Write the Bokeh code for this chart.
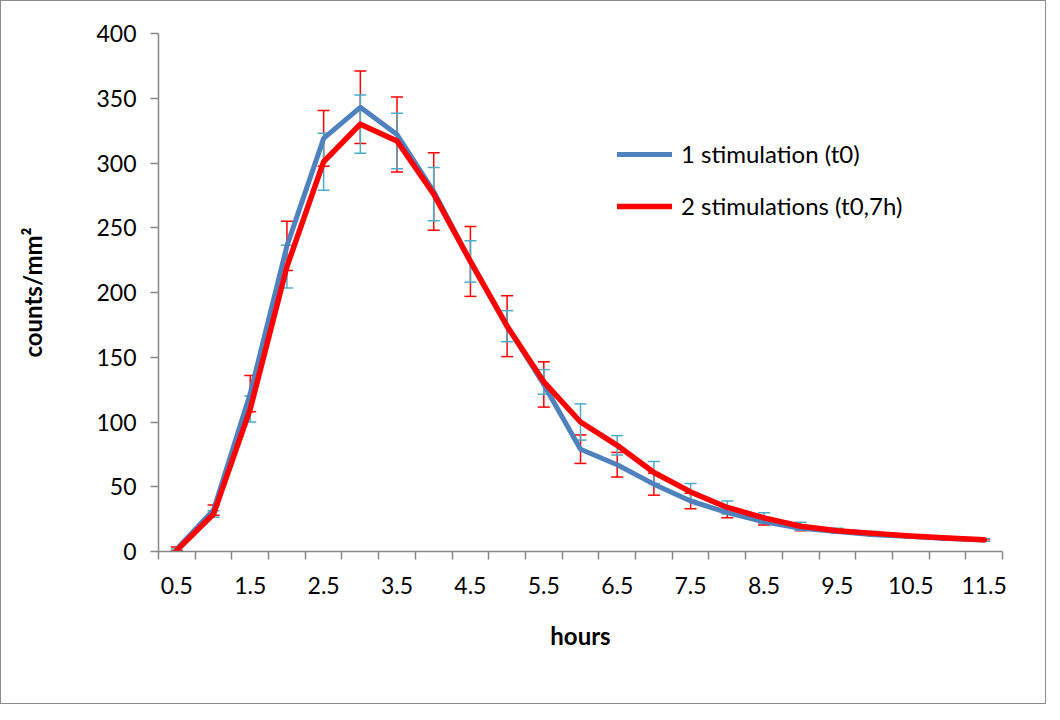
from bokeh.plotting import figure
from bokeh.models import FixedTicker, Whisker, TeeHead, ColumnDataSource, Range1d
from bokeh.embed import file_html
from bokeh.resources import INLINE

# ---- data ----
hours = [0.5, 1.0, 1.5, 2.0, 2.5, 3.0, 3.5, 4.0, 4.5, 5.0, 5.5, 6.0,
         6.5, 7.0, 7.5, 8.0, 8.5, 9.0, 9.5, 10.0, 10.5, 11.0, 11.5]
one_stim = [2, 32, 122, 236, 319, 343, 322, 278, 224, 174, 129, 79,
            67, 52, 39, 30, 23, 18, 15.5, 13, 11.5, 10, 8.8]
one_stim_err = [1.5, 4, 14, 19, 21.5, 28, 29, 30, 27, 23.5, 17.5, 11,
                9.5, 8.5, 6, 4, 2.5, 2, 1.5, 1, 1, 1, 0.8]
two_stim = [1, 29, 110, 220, 301, 330, 317, 276, 224, 174, 131, 100,
            82, 61, 46, 34, 26, 19.5, 16, 14, 12, 10.5, 9]
two_stim_err = [1, 2.5, 10, 16.5, 22, 22.5, 21.5, 20.5, 16, 12, 9.5, 14,
                7.5, 8.5, 6.5, 5, 4, 3, 2, 1.5, 1, 1, 1]
y_ticks = [0, 50, 100, 150, 200, 250, 300, 350, 400]
x_label_ticks = [0.5, 1.5, 2.5, 3.5, 4.5, 5.5, 6.5, 7.5, 8.5, 9.5, 10.5, 11.5]

series1_name = "1 stimulation (t0)"
series2_name = "2 stimulations (t0,7h)"

FONT = "Lato"
AXIS_GREY = "#868686"
BLUE = "#4F81BD"
RED = "#FF0000"
CYAN = "#4BACC6"

p = figure(width=1046, height=704, output_backend="svg", toolbar_location=None,
           x_range=Range1d(0.25, 11.75), y_range=Range1d(0, 400),
           frame_width=844, frame_height=518,
           min_border_left=157, min_border_right=43, min_border_top=32,
           min_border_bottom=152)
p.styles = {"border": "1px solid #8c8c8c"}
p.outline_line_color = None
p.xgrid.grid_line_color = None
p.ygrid.grid_line_color = None
p.background_fill_color = "white"
p.border_fill_color = "white"

s1 = ColumnDataSource(dict(x=hours, y=one_stim,
                           up=[v + e for v, e in zip(one_stim, one_stim_err)],
                           lo=[v - e for v, e in zip(one_stim, one_stim_err)]))
s2 = ColumnDataSource(dict(x=hours, y=two_stim,
                           up=[v + e for v, e in zip(two_stim, two_stim_err)],
                           lo=[v - e for v, e in zip(two_stim, two_stim_err)]))

w1 = Whisker(source=s1, base="x", upper="up", lower="lo", level="underlay",
             line_color=RED, line_width=1.5,
             upper_head=TeeHead(size=12, line_color=RED, line_width=1.5),
             lower_head=TeeHead(size=12, line_color=RED, line_width=1.5))
w2 = Whisker(source=s2, base="x", upper="up", lower="lo", level="underlay",
             line_color=CYAN, line_width=1.5,
             upper_head=TeeHead(size=12, line_color=CYAN, line_width=1.5),
             lower_head=TeeHead(size=12, line_color=CYAN, line_width=1.5))
p.add_layout(w1)
p.add_layout(w2)

p.line("x", "y", source=s1, line_color=BLUE, line_width=5, line_join="round",
       line_cap="round", legend_label=series1_name)
p.line("x", "y", source=s2, line_color=RED, line_width=5.5, line_join="round",
       line_cap="round", legend_label=series2_name)

# x axis
xa = p.xaxis[0]
xa.ticker = FixedTicker(ticks=x_label_ticks,
                        minor_ticks=[h - 0.25 for h in hours] + [hours[-1] + 0.25])
xa.major_tick_out = 0
xa.major_tick_in = 0
xa.minor_tick_out = 8
xa.minor_tick_in = 0
xa.minor_tick_line_color = AXIS_GREY
xa.minor_tick_line_width = 1.5
xa.axis_line_color = AXIS_GREY
xa.axis_line_width = 1.5
xa.major_label_text_font = FONT
xa.major_label_text_font_size = "23px"
xa.major_label_text_color = "black"
xa.major_label_standoff = 17
xa.axis_label = "hours"
xa.axis_label_text_font = FONT
xa.axis_label_text_font_style = "bold"
xa.axis_label_text_font_size = "24px"
xa.axis_label_text_color = "black"
xa.axis_label_standoff = 24

# y axis
ya = p.yaxis[0]
ya.ticker = FixedTicker(ticks=y_ticks)
ya.minor_tick_line_color = None
ya.major_tick_out = 8
ya.major_tick_in = 0
ya.major_tick_line_color = AXIS_GREY
ya.major_tick_line_width = 1.5
ya.axis_line_color = AXIS_GREY
ya.axis_line_width = 1.5
ya.major_label_text_font = FONT
ya.major_label_text_font_size = "23px"
ya.major_label_text_color = "black"
ya.major_label_standoff = 14
ya.axis_label = "counts/mm²"
ya.axis_label_text_font = FONT
ya.axis_label_text_font_style = "bold"
ya.axis_label_text_font_size = "24px"
ya.axis_label_text_color = "black"
ya.axis_label_standoff = 46

# legend
lg = p.legend[0]
lg.location = (459, 331)
lg.border_line_color = None
lg.background_fill_alpha = 0
lg.padding = 0
lg.margin = 0
lg.spacing = 23
lg.label_height = 24
lg.glyph_height = 24
lg.glyph_width = 55
lg.label_standoff = 9
lg.label_text_font = FONT
lg.label_text_font_size = "24px"
lg.label_text_color = "black"

open("out.html", "w").write(file_html(p, INLINE))
